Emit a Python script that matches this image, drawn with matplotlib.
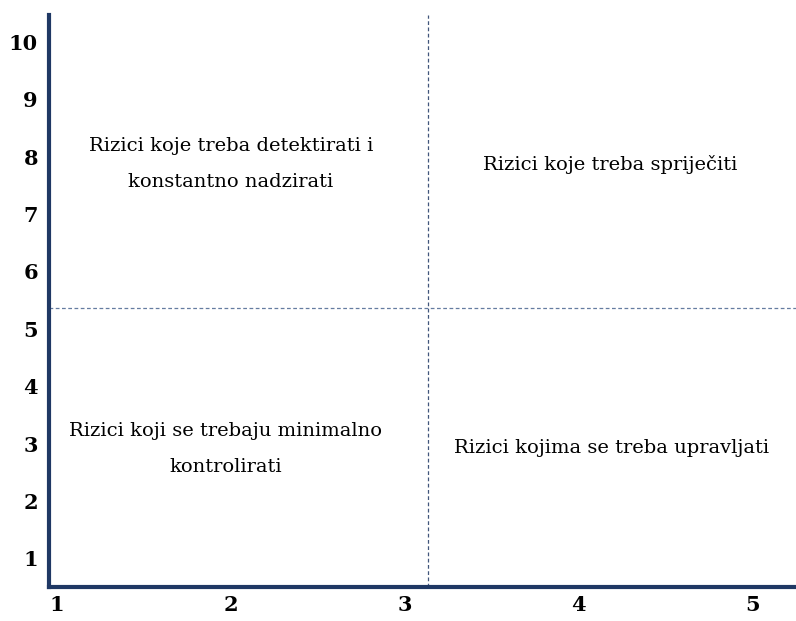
import matplotlib
matplotlib.use("Agg")
import matplotlib.pyplot as plt

x_ticks = [1, 2, 3, 4, 5]
y_ticks = [1, 2, 3, 4, 5, 6, 7, 8, 9, 10]
x_split = 3.135
y_split = 5.37
quadrant_labels = [
    "Rizici koje treba detektirati i\nkonstantno nadzirati",
    "Rizici koje treba spriječiti",
    "Rizici koji se trebaju minimalno\nkontrolirati",
    "Rizici kojima se treba upravljati",
]
quadrant_x = [2.0, 4.18, 1.97, 4.19]
quadrant_y = [7.88, 7.87, 2.9, 2.93]

navy = "#1F3864"
fig = plt.figure(figsize=(7.96, 6.21), dpi=100)
ax = fig.add_axes([0.0616, 0.0548, 0.938, 0.921])
ax.set_xlim(0.954, 5.25)
ax.set_ylim(0.5, 10.47)
for s in ["top", "right"]:
    ax.spines[s].set_visible(False)
for s in ["left", "bottom"]:
    ax.spines[s].set_color(navy)
    ax.spines[s].set_linewidth(3)
ax.set_xticks(x_ticks)
ax.set_yticks(y_ticks)
ax.set_xticklabels([str(v) for v in x_ticks], fontfamily="DejaVu Serif", fontweight="bold", fontsize=15)
ax.set_yticklabels([str(v) for v in y_ticks], fontfamily="DejaVu Serif", fontweight="bold", fontsize=15)
ax.tick_params(length=0, pad=8)
ax.tick_params(axis="x", pad=6)
ax.axvline(x_split, color=navy, lw=0.9, ls=(0, (3, 2)), alpha=0.85)
ax.axhline(y_split, color="#4A6590", lw=0.9, ls=(0, (3, 2)), alpha=0.85)
for t, x, y in zip(quadrant_labels, quadrant_x, quadrant_y):
    ax.text(x, y, t, ha="center", va="center", fontsize=14, fontfamily="DejaVu Serif",
            linespacing=2.3)
fig.savefig("out.png", dpi=100)
